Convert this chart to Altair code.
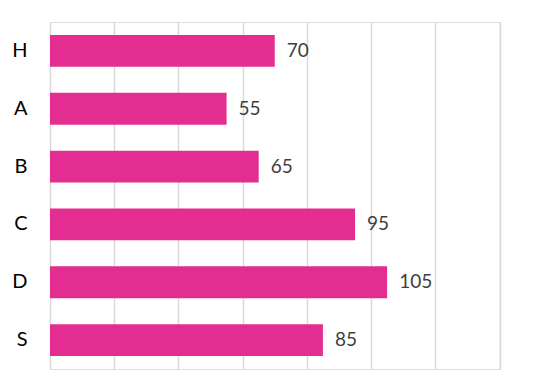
import altair as alt
import pandas as pd

categories = ["H", "A", "B", "C", "D", "S"]
values = [70, 55, 65, 95, 105, 85]
grid_ticks = [0, 20, 40, 60, 80, 100, 120, 140]

df = pd.DataFrame({"cat": categories, "val": values})

y = alt.Y("cat:N", sort=categories, title=None,
          scale=alt.Scale(paddingInner=0.45, paddingOuter=0.225),
          axis=alt.Axis(domain=False, ticks=False, labelPadding=23,
                        labelFont="Lato", labelFontSize=20, labelColor="#000000"))
x = alt.X("val:Q", title=None,
          scale=alt.Scale(domain=[0, 140], nice=False),
          axis=alt.Axis(values=grid_ticks, labels=False, ticks=False, domain=False,
                        grid=True, gridColor="#d9d9d9", gridWidth=1.5))

bars = alt.Chart(df).mark_bar(color="#E32D91").encode(x=x, y=y)
text = alt.Chart(df).mark_text(align="left", baseline="middle", dx=12,
                               font="Lato", fontSize=19, color="#404040").encode(
    x="val:Q", y=alt.Y("cat:N", sort=categories), text="val:Q")

chart = (bars + text).properties(
    width=449.5, height=347,
    autosize=alt.AutoSizeParams(type="none"),
    padding={"left": 42, "top": 14, "right": 46, "bottom": 15},
).configure_view(stroke=None).configure(background="white")

chart.save("out.html", embed_options={"renderer": "svg", "actions": False})
